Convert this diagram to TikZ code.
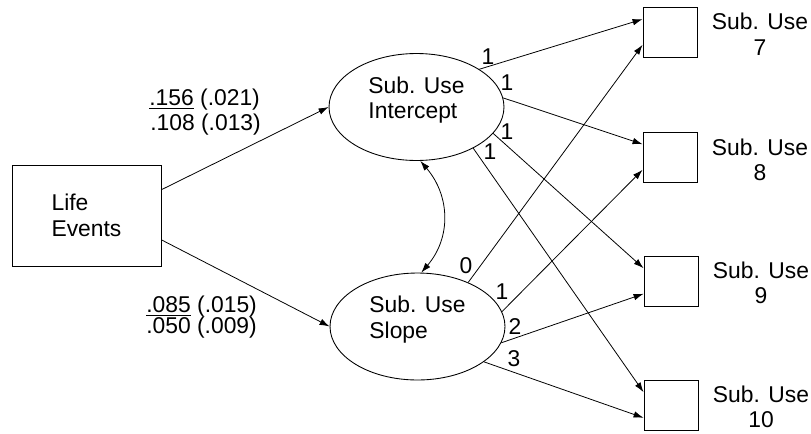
\documentclass[tikz,border=0pt]{standalone}
\usepackage{fontspec}
\setmainfont{Liberation Sans}
\usetikzlibrary{shapes.geometric,arrows.meta}
\newcommand\liftlines[1]{\raisebox{3.4pt}[\height][\depth]{\begin{tabular}{@{}l@{}}#1\end{tabular}}}
\tikzset{
  obs/.style={draw,line width=0.5pt,minimum width=1.08cm,minimum height=1cm,inner sep=0pt},
  latent/.style={draw,ellipse,line width=0.5pt,minimum width=3.5cm,minimum height=2.14cm,inner sep=0pt},
  arr/.style={line width=0.45pt,-{Latex[length=2mm,width=1.3mm]}},
  num/.style={inner sep=0pt}
}
\begin{document}
\begin{tikzpicture}[x=0.02cm,y=-0.02cm,font=\fontsize{13}{14.5}\selectfont]
                \useasboundingbox (0,0) rectangle (811,433);
                % predictor and growth factors
                \node[draw,line width=0.5pt,minimum width=2.98cm,minimum height=2.02cm,align=left] (life) at (86.5,215.5) {Life\\Events};
                \node[latent] (int) at (416.5,107) {\liftlines{Sub. Use\\Intercept}};
                \node[latent] (slp) at (417.5,326.5) {\liftlines{Sub. Use\\Slope}};
                % observed outcomes
                \node[obs] (o7) at (670,32) {};
                \node[obs] (o8) at (670,157) {};
                \node[obs] (o9) at (671,281) {};
                \node[obs] (o10) at (671,405) {};
                \node[align=center] (t7) at (760,34) {Sub. Use\\7};
                \node[align=center] (t8) at (760,160) {Sub. Use\\8};
                \node[align=center] (t9) at (761,283) {Sub. Use\\9};
                \node[align=center] (t10) at (761,407) {Sub. Use\\10};
                % paths
                \draw[arr] (life.19) -- (int.west);
                \draw[arr] (life.-18) -- (slp.west);
                \draw[arr] (int.31) -- (o7.155);
                \draw[arr] (int.6) -- (o8.155);
                \draw[arr] (int.-19) -- (o9.155);
                \draw[arr] (int.-36) -- (o10.155);
                \draw[arr] (slp.41) -- (o7.205);
                \draw[arr] (slp.10) -- (o8.205);
                \draw[arr] (slp.-11) -- (o9.205);
                \draw[arr] (slp.-28) -- (o10.205);
                \draw[line width=0.45pt,{Latex[length=2mm,width=1.3mm]}-{Latex[length=2mm,width=1.3mm]}] (int.-86) .. controls +(30,35) and +(30,-35) .. (slp.86);
                % loadings
                \node[num] (a1) at (488,57) {1};
                \node[num] (a2) at (507,83) {1};
                \node[num] (a3) at (507,132) {1};
                \node[num] (a4) at (490,152) {1};
                \node[num] (b0) at (466,266) {0};
                \node[num] (b1) at (502,292) {1};
                \node[num] (b2) at (515,327) {2};
                \node[num] (b3) at (514,359) {3};
                % regression weights
                \node[num,anchor=west] (c1) at (149,100) {\underline{.156} (.021)};
                \node[num,anchor=west] (c2) at (150,125) {.108 (.013)};
                \node[num,anchor=west] (c3) at (146,307) {\underline{.085} (.015)};
                \node[num,anchor=west] (c4) at (146,328) {.050 (.009)};
            \end{tikzpicture}
\end{document}
